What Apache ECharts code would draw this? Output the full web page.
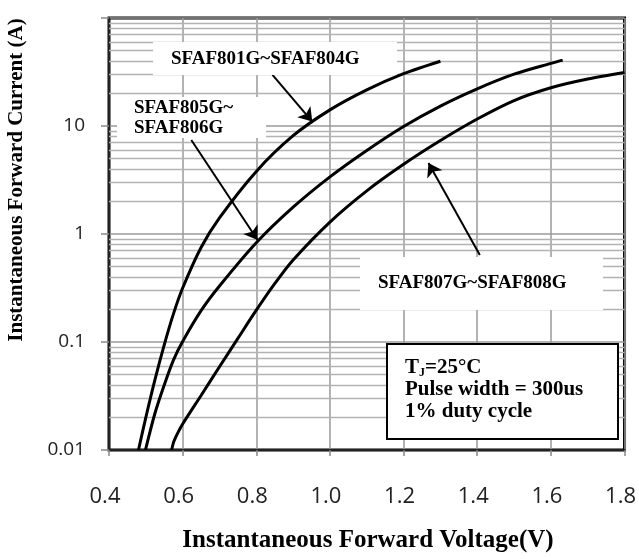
<!DOCTYPE html>
<html><head><meta charset="utf-8">
<script src="https://cdn.jsdelivr.net/npm/echarts@6/dist/echarts.min.js"></script>
<style>html,body{margin:0;padding:0;background:#fff}#c{width:639px;height:559px}</style>
</head><body><div id="c"></div>
<script>
// ---- data ----
const xTickLabelsDecimals = 1;
const yTickLabels = ['0.01', '0.1', '1', '10', ''];
const minorMultipliers = [2, 3, 4, 5, 6, 7, 8, 9];
const decades = [0.01, 0.1, 1, 10];

const seriesNames = ['SFAF801G~SFAF804G', 'SFAF805G~SFAF806G', 'SFAF807G~SFAF808G'];

const v801 = [0.480, 0.500, 0.525, 0.550, 0.575, 0.600, 0.650, 0.700, 0.800, 0.900, 1.000, 1.100, 1.200, 1.300];
const i801 = [0.010, 0.020, 0.045, 0.094, 0.182, 0.316, 0.750, 1.41, 3.80, 8.13, 14.1, 21.6, 30.5, 39.8];

const v805 = [0.499, 0.525, 0.550, 0.575, 0.600, 0.650, 0.700, 0.800, 0.900, 1.000, 1.100, 1.200, 1.300, 1.400, 1.500, 1.600, 1.632];
const i805 = [0.010, 0.022, 0.040, 0.068, 0.101, 0.195, 0.330, 0.830, 1.77, 3.38, 5.94, 9.9, 15.3, 22.1, 30.2, 38.0, 40.7];

const v807 = [0.570, 0.575, 0.580, 0.590, 0.600, 0.650, 0.700, 0.750, 0.800, 0.850, 0.900, 1.000, 1.100, 1.200, 1.300, 1.400, 1.500, 1.600, 1.700, 1.800];
const i807 = [0.0100, 0.0117, 0.0129, 0.0151, 0.0174, 0.032, 0.059, 0.108, 0.197, 0.347, 0.575, 1.29, 2.51, 4.42, 7.33, 11.6, 17.2, 22.6, 27.2, 31.3];

// annotation arrows: [V, I] start -> tip
const arrowFrom = [[0.844, 29.7], [0.6235, 7.41], [1.407, 0.64]];
const arrowTo   = [[0.952, 11.0], [0.8035, 0.88], [1.2676, 4.54]];

// ---- chart ----
const zip = (v, i) => v.map((x, k) => [x, i[k]]);
const minorLines = [];
decades.forEach(d => minorMultipliers.forEach(m => minorLines.push({ yAxis: +(d * m).toPrecision(3) })));

const serif = '"Liberation Serif", "Times New Roman", serif';
const chart = echarts.init(document.getElementById('c'), null, { renderer: 'canvas' });

const curve = (name, data) => ({
  name, type: 'line', data, smooth: 0.3, showSymbol: false, symbol: 'none', zlevel: 2, z: 5,
  lineStyle: { color: '#000', width: 3 }, animation: false, silent: true
});

chart.setOption({
  animation: false,
  backgroundColor: '#fff',
  grid: { left: 109, right: 12, top: 18, bottom: 109, show: true, borderColor: '#000', borderWidth: 3 },
  xAxis: {
    type: 'value', min: 0.4, max: 1.8, interval: 0.2,
    axisLine: { show: true, lineStyle: { color: '#222', width: 2 } },
    axisTick: { show: true, inside: false, length: 6, lineStyle: { color: '#888', width: 1.5 } },
    axisLabel: { margin: 36, fontSize: 22, fontFamily: '"Open Sans", sans-serif', color: '#222', padding: [0, 8, 0, 0],
      formatter: v => v.toFixed(xTickLabelsDecimals) },
    splitLine: { show: true, lineStyle: { color: '#9a9a9a', width: 1.5 } }
  },
  yAxis: {
    type: 'log', logBase: 10, min: 0.01, max: 100,
    axisLine: { show: true, lineStyle: { color: '#222', width: 2 } },
    axisTick: { show: true, inside: false, length: 8, lineStyle: { color: '#888', width: 1.5 } },
    axisLabel: { margin: 24, fontSize: 19, fontFamily: '"Open Sans", sans-serif', color: '#222',
      formatter: v => yTickLabels[Math.round(Math.log10(v)) + 2] || '' },
    splitLine: { show: true, lineStyle: { color: '#9a9a9a', width: 1.5 } },
    minorTick: { show: false }, minorSplitLine: { show: false }
  },
  series: [
    {
      type: 'line', data: [], zlevel: 0, z: 1, silent: true,
      markLine: { silent: true, symbol: ['none', 'none'], animation: false, label: { show: false },
        lineStyle: { color: '#b2b2b2', width: 1.3, type: 'solid' }, emphasis: { disabled: true },
        data: minorLines }
    },
    curve(seriesNames[0], zip(v801, i801)),
    curve(seriesNames[1], zip(v805, i805)),
    curve(seriesNames[2], zip(v807, i807)),
    {
      type: 'line', data: [], zlevel: 2, z: 6, silent: true,
      markLine: { silent: true, animation: false, symbol: ['none', 'arrow'], symbolSize: 13,
        label: { show: false }, emphasis: { disabled: true },
        lineStyle: { color: '#000', width: 2, type: 'solid' },
        data: arrowFrom.map((a, k) => [{ coord: a }, { coord: arrowTo[k] }]) }
    }
  ],
  graphic: [
    { type: 'rect', zlevel: 1, z: 3, shape: { x: 153, y: 42, width: 244, height: 33 }, style: { fill: '#fff' } },
    { type: 'rect', zlevel: 1, z: 3, shape: { x: 117, y: 97, width: 149, height: 41 }, style: { fill: '#fff' } },
    { type: 'rect', zlevel: 1, z: 3, shape: { x: 360, y: 257, width: 243, height: 53 }, style: { fill: '#fff' } },
    { type: 'rect', zlevel: 1, z: 3, shape: { x: 387, y: 344, width: 231, height: 95 }, style: { fill: '#fff', stroke: '#000', lineWidth: 2 } },
    { type: 'text', zlevel: 2, z: 7, x: 171, y: 59, style: { text: 'SFAF801G~SFAF804G', font: 'bold 19px ' + serif, fill: '#000', align: 'left', verticalAlign: 'middle' } },
    { type: 'text', zlevel: 2, z: 7, x: 134, y: 118, style: { text: 'SFAF805G~\nSFAF806G', font: 'bold 19px ' + serif, lineHeight: 20, fill: '#000', align: 'left', verticalAlign: 'middle' } },
    { type: 'text', zlevel: 2, z: 7, x: 378, y: 283, style: { text: 'SFAF807G~SFAF808G', font: 'bold 19px ' + serif, fill: '#000', align: 'left', verticalAlign: 'middle' } },
    { type: 'text', zlevel: 2, z: 7, x: 405, y: 390, style: {
        text: '{a|T}{s|J}{a|=25°C}\n{a|Pulse width = 300us}\n{a|1% duty cycle}',
        fill: '#000', align: 'left', verticalAlign: 'middle',
        rich: {
          a: { font: 'bold 21px ' + serif, lineHeight: 22, fill: '#000' },
          s: { font: 'bold 12px ' + serif, lineHeight: 22, verticalAlign: 'bottom', fill: '#000', padding: [6, 0, 0, 0] }
        } } },
    { type: 'text', zlevel: 2, z: 7, x: 368, y: 541, style: { text: 'Instantaneous Forward Voltage(V)', font: 'bold 25px ' + serif, fill: '#000', align: 'center', verticalAlign: 'middle' } },
    { type: 'text', zlevel: 2, z: 7, x: 17, y: 180, rotation: Math.PI / 2, style: { text: 'Instantaneous Forward Current (A)', font: 'bold 21px ' + serif, fill: '#000', align: 'center', verticalAlign: 'middle' } }
  ]
});
</script></body></html>
